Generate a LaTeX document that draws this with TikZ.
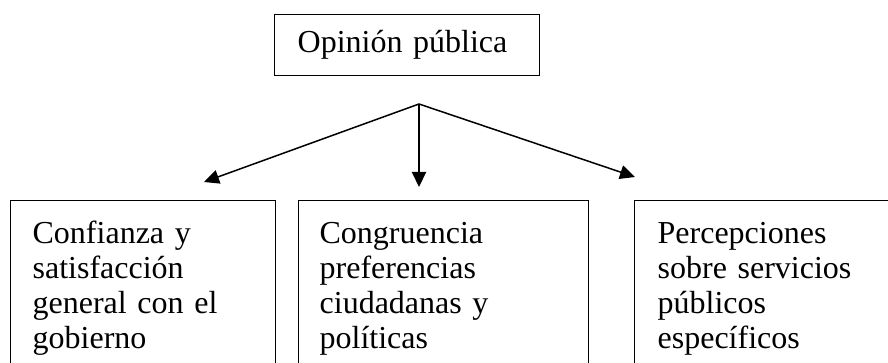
\documentclass[tikz,border=0pt]{standalone}
\usepackage{fontspec}
\setmainfont{Liberation Serif}
\usetikzlibrary{arrows.meta}
\begin{document}
\begin{tikzpicture}[x=1pt,y=-1pt,
  boxstyle/.style={draw=black, line width=1.3pt, anchor=north west, align=left,
    font=\fontsize{32}{35}\selectfont, inner ysep=0pt},
  toparrow/.style={line width=1.5pt, -{Triangle[length=15pt,width=14pt]}},
  midarrow/.style={line width=2.2pt, -{Triangle[length=15pt,width=14pt]}}]
\clip (0,0) rectangle (888,363);
\fill[white] (0,0) rectangle (888,363);
\node[boxstyle, minimum width=265pt, minimum height=61pt, text width=219pt,
      inner xsep=23pt, anchor=north west] (top) at (274,14) {Opinión pública};
\node[boxstyle, text width=221pt, inner xsep=22pt, minimum width=265pt,
      text depth=170pt, text height=43pt] (b1) at (10,200)
  {Confianza y\\satisfacción\\general con el\\gobierno};
\node[boxstyle, text width=248pt, inner xsep=21pt, minimum width=290pt,
      text depth=170pt, text height=43pt] (b2) at (298,200)
  {Congruencia\\preferencias\\ciudadanas y\\políticas};
\node[boxstyle, text width=290pt, inner xsep=23pt, minimum width=336pt,
      text depth=170pt, text height=43pt] (b3) at (634,200)
  {Percepciones\\sobre servicios\\públicos\\específicos};
\coordinate (apex) at (419,104);
\coordinate (t1) at (204,182);
\coordinate (t2) at (419,187);
\coordinate (t3) at (635,177);
\draw[toparrow] (apex) -- (t1);
\draw[toparrow] (apex) -- (t3);
\draw[midarrow] (apex) -- (t2);
\end{tikzpicture}
\end{document}
